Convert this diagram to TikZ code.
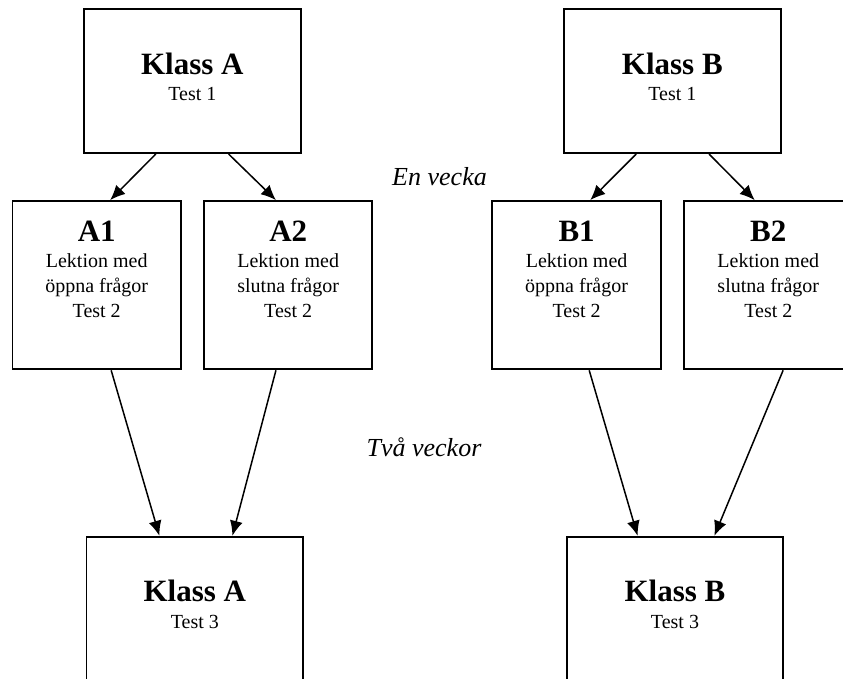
\documentclass[tikz,border=0pt]{standalone}
\usepackage{fontspec}
\setmainfont{Liberation Serif}
\usetikzlibrary{arrows.meta,calc}
\tikzset{
  bigbox/.style={draw, line width=1.9pt, inner sep=0pt, minimum width=216.7pt, minimum height=143.7pt},
  smallbox/.style={draw, line width=1.9pt, inner sep=0pt, minimum width=168.4pt, minimum height=168.3pt},
  ttl/.style={anchor=base, inner sep=0pt, font=\fontsize{31}{37}\selectfont\bfseries},
  sub/.style={anchor=base, inner sep=0pt, align=center, font=\fontsize{20}{25}\selectfont},
  note/.style={anchor=base, inner sep=0pt, font=\fontsize{26}{31}\selectfont\itshape},
  arr/.style={line width=1.5pt, -{Latex[length=15pt,width=13pt]}}
}
\begin{document}
\begin{tikzpicture}[x=1pt,y=1pt]
\useasboundingbox (0,0) rectangle (843,-678);
\clip (0,0) rectangle (843,-678);
% top boxes
\node[bigbox] (KA) at (192.3,-81.2) {};
\node[ttl] (KAt) at (192.3,-74) {Klass A};
\node[sub] (KAs) at (192.3,-100.7) {Test 1};
\node[bigbox] (KB) at (672.3,-81.2) {};
\node[ttl] (KBt) at (672.3,-74) {Klass B};
\node[sub] (KBs) at (672.3,-100.7) {Test 1};
% middle boxes
\node[smallbox] (A1) at (96.7,-285.2) {};
\node[ttl] (A1t) at (96.7,-241.7) {A1};
\node[sub] (A1s) at (96.7,-317.5) {Lektion med\\öppna frågor\\Test 2};
\node[smallbox] (A2) at (288.2,-285.2) {};
\node[ttl] (A2t) at (288.2,-241.7) {A2};
\node[sub] (A2s) at (288.2,-317.5) {Lektion med\\slutna frågor\\Test 2};
\node[smallbox] (B1) at (576.6,-285.2) {};
\node[ttl] (B1t) at (576.6,-241.7) {B1};
\node[sub] (B1s) at (576.6,-317.5) {Lektion med\\öppna frågor\\Test 2};
\node[smallbox] (B2) at (768.3,-285.2) {};
\node[ttl] (B2t) at (768.3,-241.7) {B2};
\node[sub] (B2s) at (768.3,-317.5) {Lektion med\\slutna frågor\\Test 2};
% bottom boxes
\node[bigbox] (KA3) at (194.8,-608.6) {};
\node[ttl] (KA3t) at (194.8,-601.7) {Klass A};
\node[sub] (KA3s) at (194.8,-628.3) {Test 3};
\node[bigbox] (KB3) at (675,-608.6) {};
\node[ttl] (KB3t) at (675,-601.7) {Klass B};
\node[sub] (KB3s) at (675,-628.3) {Test 3};
% notes
\node[note] (n1) at (439.5,-185) {En vecka};
\node[note] (n2) at (424,-456.7) {Två veckor};
% arrows
\draw[arr] ($(KA.south west)!0.333!(KA.south east)$) -- ($(A1.north west)!0.579!(A1.north east)$);
\draw[arr] ($(KA.south west)!0.666!(KA.south east)$) -- ($(A2.north west)!0.428!(A2.north east)$);
\draw[arr] ($(KB.south west)!0.335!(KB.south east)$) -- ($(B1.north west)!0.58!(B1.north east)$);
\draw[arr] ($(KB.south west)!0.668!(KB.south east)$) -- ($(B2.north west)!0.42!(B2.north east)$);
\draw[arr] ($(A1.south west)!0.585!(A1.south east)$) -- ($(KA3.north west)!0.338!(KA3.north east)$);
\draw[arr] ($(A2.south west)!0.428!(A2.south east)$) -- ($(KA3.north west)!0.672!(KA3.north east)$);
\draw[arr] ($(B1.south west)!0.574!(B1.south east)$) -- ($(KB3.north west)!0.329!(KB3.north east)$);
\draw[arr] ($(B2.south west)!0.587!(B2.south east)$) -- ($(KB3.north west)!0.68!(KB3.north east)$);
\end{tikzpicture}
\end{document}
